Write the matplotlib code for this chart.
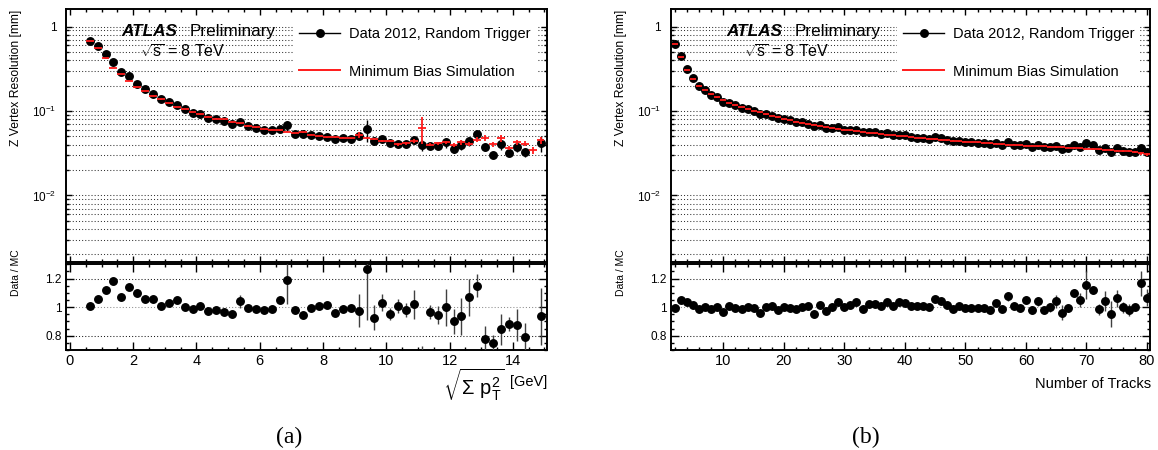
import numpy as np
import matplotlib.pyplot as plt
from matplotlib.lines import Line2D
from matplotlib.ticker import FixedLocator, MultipleLocator, FuncFormatter, LogLocator, NullFormatter

plt.rcParams['font.family'] = ['Liberation Sans', 'DejaVu Sans']
plt.rcParams['mathtext.fontset'] = 'custom'
plt.rcParams['mathtext.rm'] = 'Liberation Sans'
plt.rcParams['mathtext.it'] = 'Liberation Sans:italic'
plt.rcParams['mathtext.bf'] = 'Liberation Sans:bold'

# (a) z-vertex resolution vs sqrt(sum pT^2), 0.25 GeV bins from 0.5 to 15 GeV
sumpt_edges = np.arange(0.5, 15.01, 0.25)
sumpt_mc = [0.673, 0.558, 0.422, 0.325, 0.272, 0.225, 0.191, 0.171, 0.150, 0.137,
            0.124, 0.111, 0.105, 0.0965, 0.0911, 0.0859, 0.0812, 0.0793, 0.0733, 0.0712,
            0.0672, 0.0639, 0.0612, 0.0603, 0.0588, 0.0567, 0.055, 0.0557, 0.0521, 0.0506,
            0.049, 0.049, 0.0485, 0.0473, 0.0522, 0.0476, 0.047, 0.0447, 0.0441, 0.0402,
            0.0413, 0.0441, 0.0625, 0.0398, 0.0413, 0.0424, 0.0393, 0.0424, 0.0407, 0.0458,
            0.0482, 0.0404, 0.0475, 0.0366, 0.0429, 0.0411, 0.0343, 0.0449]
sumpt_mc_err = [0.004, 0.003, 0.002, 0.0015, 0.0012, 0.001, 0.0009, 0.0008, 0.0007, 0.0006,
                0.0005, 0.0005, 0.0005, 0.0005, 0.0005, 0.0005, 0.0005, 0.0005, 0.0005, 0.0005,
                0.0006, 0.0006, 0.0006, 0.0006, 0.0006, 0.0006, 0.0006, 0.0006, 0.0006, 0.0006,
                0.0008, 0.0008, 0.0008, 0.0008, 0.004, 0.0012, 0.0012, 0.0012, 0.0012, 0.0012,
                0.0015, 0.002, 0.022, 0.0015, 0.002, 0.002, 0.002, 0.0025, 0.0025, 0.003,
                0.004, 0.0025, 0.005, 0.002, 0.003, 0.003, 0.0035, 0.004]
sumpt_ratio = [1.01, 1.056, 1.12, 1.18, 1.07, 1.14, 1.10, 1.056, 1.054, 1.005,
               1.026, 1.047, 1.002, 0.99, 1.01, 0.97, 0.98, 0.967, 0.955, 1.04,
               0.995, 0.99, 0.98, 0.985, 1.047, 1.19, 0.977, 0.946, 0.995, 1.005,
               1.012, 0.96, 0.99, 0.993, 0.975, 1.27, 0.927, 1.03, 0.953, 1.007,
               0.98, 1.02, 0.63, 0.965, 0.944, 1.0, 0.90, 0.937, 1.07, 1.15,
               0.778, 0.748, 0.845, 0.88, 0.874, 0.79, np.nan, 0.935]
sumpt_ratio_err = [0.01, 0.01, 0.01, 0.01, 0.012, 0.012, 0.015, 0.015, 0.015, 0.012,
                   0.015, 0.02, 0.015, 0.015, 0.015, 0.015, 0.015, 0.015, 0.015, 0.045,
                   0.015, 0.015, 0.015, 0.015, 0.02, 0.17, 0.02, 0.02, 0.02, 0.02,
                   0.02, 0.02, 0.025, 0.02, 0.115, 0.36, 0.085, 0.06, 0.04, 0.05,
                   0.05, 0.1, 0.1, 0.05, 0.065, 0.13, 0.09, 0.13, 0.13, 0.08,
                   0.09, 0.06, 0.11, 0.05, 0.11, 0.1, np.nan, 0.2]

# (b) z-vertex resolution vs number of tracks, 2..80
ntrk = np.arange(2, 81)
ntrk_mc = [0.62, 0.43, 0.305, 0.24, 0.20, 0.176, 0.157, 0.145, 0.134, 0.125,
           0.118, 0.111, 0.105, 0.100, 0.096, 0.091, 0.087, 0.084, 0.080, 0.078,
           0.075, 0.073, 0.070, 0.069, 0.067, 0.065, 0.063, 0.062, 0.060, 0.059,
           0.058, 0.0565, 0.0555, 0.0545, 0.0535, 0.0525, 0.0515, 0.0505, 0.050, 0.049,
           0.048, 0.0475, 0.047, 0.046, 0.0455, 0.045, 0.0445, 0.044, 0.0435, 0.043,
           0.0425, 0.042, 0.0415, 0.041, 0.0405, 0.040, 0.0397, 0.0393, 0.039, 0.0386,
           0.0383, 0.038, 0.0377, 0.0374, 0.0371, 0.0368, 0.0364, 0.036, 0.0357, 0.0354,
           0.035, 0.0346, 0.0343, 0.034, 0.0337, 0.0334, 0.033, 0.0314, 0.0306]
ntrk_mc_err = [0.004, 0.003, 0.002, 0.0015, 0.001, 0.0008, 0.0007, 0.0006, 0.0005, 0.0005,
               0.0004, 0.0004, 0.0004, 0.0004, 0.0004, 0.0004, 0.0004, 0.0004, 0.0004, 0.0004,
               0.0004, 0.0004, 0.0004, 0.0004, 0.0004, 0.0004, 0.0004, 0.0004, 0.0004, 0.0004,
               0.0004, 0.0004, 0.0004, 0.0004, 0.0004, 0.0004, 0.0004, 0.0004, 0.0004, 0.0004,
               0.0005, 0.0005, 0.0005, 0.0005, 0.0005, 0.0005, 0.0005, 0.0005, 0.0005, 0.0005,
               0.0005, 0.0005, 0.0005, 0.0005, 0.0005, 0.0005, 0.0005, 0.0005, 0.0005, 0.0005,
               0.0007, 0.0007, 0.0007, 0.0007, 0.0007, 0.0007, 0.0007, 0.0007, 0.0007, 0.0007,
               0.0008, 0.0008, 0.001, 0.0008, 0.0008, 0.001, 0.001, 0.0015, 0.0015]
ntrk_ratio = [0.995, 1.05, 1.035, 1.012, 0.99, 1.0, 0.986, 0.998, 0.965, 1.007,
              0.995, 0.99, 1.002, 0.993, 0.96, 1.0, 1.007, 0.98, 1.0, 0.995,
              0.986, 1.002, 1.005, 0.95, 1.016, 0.97, 0.998, 1.033, 0.998, 1.012,
              1.035, 0.988, 1.019, 1.023, 1.009, 1.033, 1.007, 1.033, 1.028, 1.007,
              1.009, 1.009, 1.002, 1.056, 1.04, 1.016, 0.988, 1.009, 0.993, 0.995,
              0.995, 0.995, 0.98, 1.03, 0.988, 1.075, 1.007, 0.993, 1.05, 0.98,
              1.04, 0.98, 0.998, 1.042, 0.962, 0.993, 1.10, 1.05, 1.155, 1.12,
              0.984, 1.044, 0.95, 1.063, 0.998, 0.98, 1.0, 1.166, 1.065]
ntrk_ratio_err = [0.008, 0.008, 0.008, 0.008, 0.008, 0.008, 0.008, 0.008, 0.008, 0.008,
                  0.008, 0.008, 0.008, 0.008, 0.008, 0.008, 0.008, 0.008, 0.008, 0.008,
                  0.008, 0.008, 0.008, 0.008, 0.008, 0.008, 0.008, 0.008, 0.008, 0.01,
                  0.01, 0.01, 0.01, 0.01, 0.01, 0.01, 0.01, 0.01, 0.01, 0.01,
                  0.01, 0.01, 0.01, 0.01, 0.01, 0.012, 0.012, 0.012, 0.012, 0.012,
                  0.015, 0.015, 0.015, 0.02, 0.02, 0.03, 0.02, 0.02, 0.025, 0.025,
                  0.03, 0.02, 0.03, 0.045, 0.05, 0.03, 0.03, 0.05, 0.1, 0.03,
                  0.04, 0.07, 0.09, 0.06, 0.04, 0.04, 0.02, 0.09, 0.06]

W, H = 1158, 450


def rect(x0, y0, x1, y1):
    return [x0 / W, 1 - y1 / H, (x1 - x0) / W, (y1 - y0) / H]


def decade_label(v, pos):
    if np.isclose(v, 1):
        return '1'
    return r'$10^{%d}$' % round(np.log10(v))


GRID = dict(color='0.2', lw=0.75, linestyle=(0, (1, 2)))


def style_frame(ax):
    for s in ax.spines.values():
        s.set_linewidth(1.4)
    ax.tick_params(which='both', direction='in', top=True, right=True, width=1)
    ax.tick_params(which='major', length=4.5)
    ax.tick_params(which='minor', length=2.4)


def draw(fig, x0, x1, centers, half, mc, mc_err, ratio, ratio_err,
         xlim, xmajor, xminor, caption, cap_x):
    mc = np.array(mc)
    ratio = np.array(ratio)
    data = mc * ratio
    data_err = mc * np.array(ratio_err)

    ax = fig.add_axes(rect(x0, 9.3, x1, 261.5))
    rax = fig.add_axes(rect(x0, 264.3, x1, 350))

    # upper pad: resolution in data and simulation
    ax.errorbar(centers, data, yerr=data_err, fmt='o', color='k', ms=5.4,
                elinewidth=1, capsize=0, zorder=3)
    ax.errorbar(centers, mc, xerr=half, yerr=mc_err, fmt='none', ecolor='#ff1a1a',
                elinewidth=1.3, capsize=0, zorder=4)
    ax.set_yscale('log')
    ax.set_ylim(1.65e-3, 1.6)
    ax.set_xlim(*xlim)
    ax.yaxis.set_major_locator(FixedLocator([0.01, 0.1, 1]))
    ax.yaxis.set_major_formatter(FuncFormatter(decade_label))
    ax.yaxis.set_minor_locator(LogLocator(subs=np.arange(2, 10)))
    ax.yaxis.set_minor_formatter(NullFormatter())
    ax.xaxis.set_major_locator(MultipleLocator(xmajor))
    ax.xaxis.set_minor_locator(MultipleLocator(xminor))
    ax.grid(True, axis='y', which='both', **GRID)
    style_frame(ax)
    ax.tick_params(axis='x', labelbottom=False)
    ax.tick_params(axis='y', labelsize=8.5, pad=7)

    handles = [Line2D([], [], color='k', marker='o', ms=5.4, lw=1),
               Line2D([], [], color='#ff1a1a', lw=1.4)]
    leg = ax.legend(handles, ['Data 2012, Random Trigger', 'Minimum Bias Simulation'],
                    loc='upper left', bbox_to_anchor=(0.472, 0.952), frameon=True,
                    facecolor='white', edgecolor='none', framealpha=1, fancybox=False,
                    fontsize=10.5, handlelength=2.85, handletextpad=0.6,
                    labelspacing=1.6, borderpad=0.4, borderaxespad=0)
    leg.set_zorder(5)

    ax.text((121.7 - 66) / 481, (261.5 - 36) / 252.2, 'ATLAS', transform=ax.transAxes,
            fontsize=12.3, fontweight='bold', fontstyle='italic', va='baseline')
    ax.text((190 - 66) / 481, (261.5 - 36) / 252.2, 'Preliminary', transform=ax.transAxes,
            fontsize=12.3, va='baseline')
    ax.text((140 - 66) / 481, (261.5 - 58) / 252.2, r'$\sqrt{\mathrm{s}}$ = 8 TeV',
            transform=ax.transAxes, fontsize=11.5, va='baseline')

    # lower pad: data / simulation
    rax.errorbar(centers, ratio, yerr=ratio_err, fmt='o', color='k', ecolor='0.25',
                 ms=5.4, elinewidth=1, capsize=0, zorder=3)
    rax.set_xlim(*xlim)
    rax.set_ylim(0.7, 1.3)
    rax.yaxis.set_major_locator(FixedLocator([0.8, 1.0, 1.2]))
    rax.yaxis.set_major_formatter(FuncFormatter(lambda v, p: '%g' % v))
    rax.yaxis.set_minor_locator(MultipleLocator(0.05))
    rax.xaxis.set_major_locator(MultipleLocator(xmajor))
    rax.xaxis.set_minor_locator(MultipleLocator(xminor))
    for lvl, col in [(0.8, '0.1'), (1.0, '0.55'), (1.2, '0.1')]:
        rax.axhline(lvl, color=col, lw=0.75, linestyle=(0, (1, 2)), zorder=1)
    style_frame(rax)
    rax.tick_params(which='major', length=5.5)
    rax.tick_params(axis='x', labelsize=10.5, pad=3)
    rax.tick_params(axis='y', labelsize=8.5, pad=3)

    fig.text((x0 - 50) / W, 1 - 10 / H, 'Z Vertex Resolution [mm]', rotation=90,
             ha='center', va='top', fontsize=8.75)
    fig.text((x0 - 50) / W, 1 - 273 / H, 'Data / MC', rotation=90,
             ha='center', va='center', fontsize=7.5)
    fig.text(cap_x / W, 1 - 437 / H, caption, family='Liberation Serif', fontsize=17,
             ha='center', va='center')
    return ax, rax


fig = plt.figure(figsize=(W / 100, H / 100), dpi=100)

draw(fig, 66, 547, (sumpt_edges[:-1] + sumpt_edges[1:]) / 2, 0.125,
     sumpt_mc, sumpt_mc_err, sumpt_ratio, sumpt_ratio_err,
     (-0.125, 15.08), 2, 0.5, '(a)', 289)
fig.text(505 / W, 1 - 384.5 / H, r'$\sqrt{\Sigma\ \mathrm{p}_{\mathrm{T}}^{2}}$',
         ha='right', va='center', fontsize=14.5)
fig.text(547 / W, 1 - 386 / H, '[GeV]', ha='right', va='baseline', fontsize=10.5)

draw(fig, 670.7, 1150, ntrk, 0.5,
     ntrk_mc, ntrk_mc_err, ntrk_ratio, ntrk_ratio_err,
     (1.3, 80.5), 10, 2, '(b)', 866)
fig.text(1151 / W, 1 - 388 / H, 'Number of Tracks', ha='right', va='baseline', fontsize=10.5)

fig.savefig('out.png', dpi=100)
